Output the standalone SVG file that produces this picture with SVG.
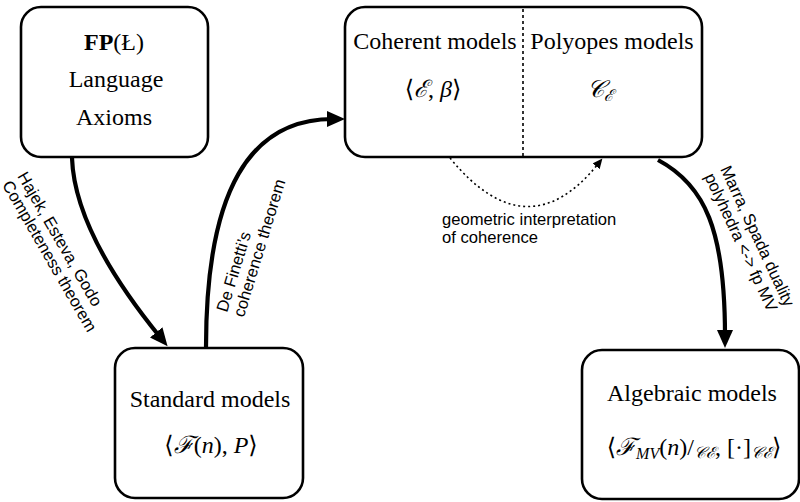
<svg xmlns="http://www.w3.org/2000/svg" width="800" height="502" viewBox="0 0 800 502">
<style>
.box{fill:#fff;stroke:#000;stroke-width:2.6}
.t{font-family:"Liberation Serif","DejaVu Serif",serif;font-size:24px;fill:#000;text-anchor:middle}
.i{font-style:italic}
.sub{font-size:16px}
.lab{font-family:"Liberation Sans",Arial,sans-serif;font-size:16.6px;fill:#000}
.arr{fill:none;stroke:#000;stroke-width:4.2}
.dot{fill:none;stroke:#000;stroke-width:1.6;stroke-dasharray:2 3}
</style>
<defs>
<marker id="ah" markerUnits="userSpaceOnUse" markerWidth="20" markerHeight="18" refX="6" refY="8" orient="auto">
<path d="M0,0 L18,8 L0,16 z" fill="#000"/>
</marker>
<marker id="ahs" markerUnits="userSpaceOnUse" markerWidth="12" markerHeight="10" refX="3" refY="4.5" orient="auto">
<path d="M0,0 L10,4.5 L0,9 z" fill="#000"/>
</marker>
</defs>
<g id="connectors">
<path class="arr" d="M72 158 C 74 215, 112 278, 160 337" marker-end="url(#ah)"/>
<path class="arr" d="M206 347 C 206 190, 250 119, 333 119" marker-end="url(#ah)"/>
<path class="arr" d="M658 160 C 705 185, 725 230, 725 336" marker-end="url(#ah)"/>
<path class="dot" d="M450 158 Q 527 252 598 164" marker-end="url(#ahs)"/>
<text class="lab" transform="translate(17,176) rotate(60)"><tspan x="0" y="0">Hajek, Esteva, Godo</tspan><tspan x="0" y="17.5">Completeness theorem</tspan></text>
<text class="lab" transform="translate(227,313) rotate(-73)"><tspan x="0" y="0">De Finetti’s</tspan><tspan x="0" y="17.5">coherence theorem</tspan></text>
<text class="lab" transform="translate(720,169) rotate(65)"><tspan x="0" y="0">Marra, Spada duality</tspan><tspan x="0" y="17.5">polyhedra &lt;-&gt; fp MV</tspan></text>
<text class="lab"><tspan x="442" y="225">geometric interpretation</tspan><tspan x="442" y="243">of coherence</tspan></text>
</g>
<g id="fp">
<rect class="box" x="21" y="7" width="187" height="150" rx="20"/>
<text class="t" x="114" y="50"><tspan font-weight="bold">FP</tspan>(Ł)</text>
<text class="t" x="116" y="87">Language</text>
<text class="t" x="114" y="125">Axioms</text>
</g>
<g id="coherent">
<rect class="box" x="345" y="7" width="357" height="150" rx="20"/>
<line x1="523" y1="9" x2="523" y2="156" stroke="#000" stroke-width="1.6" stroke-dasharray="3 3"/>
<text class="t" x="435" y="49">Coherent models</text>
<text class="t" x="433" y="97">⟨<tspan class="i">ℰ</tspan>, <tspan class="i">β</tspan>⟩</text>
<text class="t" x="612" y="49">Polyopes models</text>
<text class="t" x="600" y="97"><tspan class="i">𝒞</tspan><tspan class="sub i" dy="4">ℰ</tspan></text>
</g>
<g id="standard">
<rect class="box" x="115" y="348" width="188" height="150" rx="20"/>
<text class="t" x="210" y="407">Standard models</text>
<text class="t" x="211" y="453">⟨<tspan class="i">ℱ</tspan>(<tspan class="i">n</tspan>), <tspan class="i">P</tspan>⟩</text>
</g>
<g id="algebraic">
<rect class="box" x="582" y="350" width="217" height="149" rx="20"/>
<text class="t" x="692" y="401">Algebraic models</text>
<text class="t" x="694" y="455">⟨<tspan class="i">ℱ</tspan><tspan class="sub i" dy="4">MV</tspan><tspan dy="-4">(</tspan><tspan class="i">n</tspan>)/<tspan class="sub i" dy="3">𝒞ℰ</tspan><tspan dy="-3">, [·]</tspan><tspan class="sub i" dy="3">𝒞ℰ</tspan><tspan dy="-3">⟩</tspan></text>
</g>
</svg>
